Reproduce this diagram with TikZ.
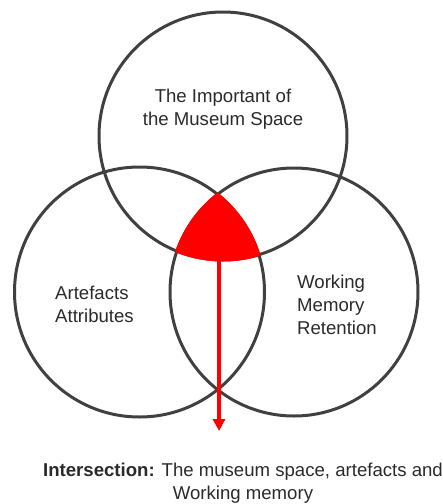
\documentclass[tikz,border=0pt]{standalone}
\usepackage{fontspec}
\setmainfont{Liberation Sans}
\usetikzlibrary{arrows.meta, positioning}
\definecolor{RingGray}{HTML}{404040}
\definecolor{TextGray}{HTML}{2A2A2A}
\definecolor{SectRed}{HTML}{FF0000}

\begin{document}
\begin{tikzpicture}[x=1pt, y=-1pt,
    ring/.style={draw=RingGray, line width=3pt},
    lbl/.style={font=\fontsize{18.6}{23}\selectfont, text=TextGray, inner sep=0pt}]
    \useasboundingbox (0,0) rectangle (443,504);

    \coordinate (Top) at (223,136);
    \coordinate (Left) at (139.5,292);
    \coordinate (Right) at (294,292);

    \draw[ring] (Top) circle (124pt);
    \draw[ring] (Left) circle (125pt);
    \draw[ring] (Right) circle (124pt);

    % shared region of all three
    \begin{scope}
        \clip (Left) circle (126.5pt);
        \clip (Right) circle (125.5pt);
        \fill[SectRed] (Top) circle (125.5pt);
    \end{scope}

    \coordinate (sectBase) at (219,258);
    \coordinate (tip) at (219,431);
    \draw[SectRed, line width=3.5pt, -{Triangle[width=12pt, length=12pt]}] (sectBase) -- (tip);

    \node[lbl, align=center] (museum) at (223,109) {The Important of\\the Museum Space};
    \node[lbl, align=left, anchor=west] (artefacts) at (55,304) {Artefacts\\Attributes};
    \node[lbl, align=left, anchor=west] (memory) at (297,305) {Working\\Memory\\Retention};
    \node[lbl, align=center] (caption) at (243,483) {\textbf{Intersection:} The museum space, artefacts and\\Working memory};
\end{tikzpicture}
\end{document}
